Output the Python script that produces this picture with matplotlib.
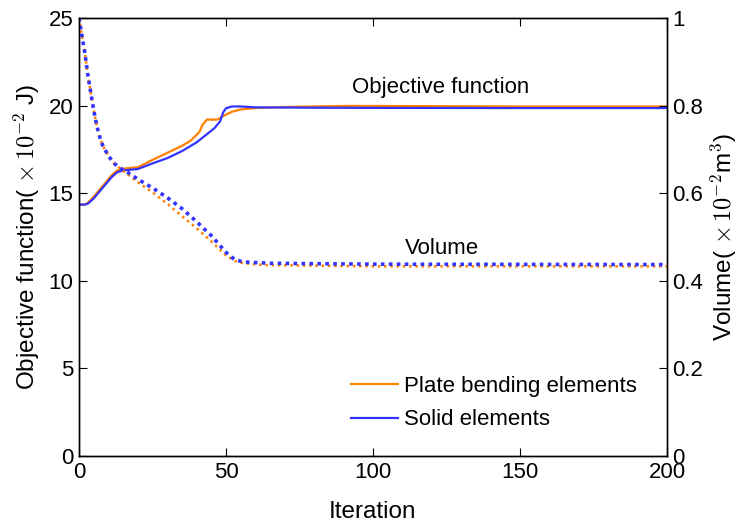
import matplotlib
matplotlib.use("Agg")
import matplotlib.pyplot as plt

plt.rcParams['font.family'] = ['Liberation Sans', 'DejaVu Sans']
plt.rcParams['mathtext.fontset'] = 'cm'

# Objective function (x 1e-2 J)
it_obj_solid = [0, 2, 3, 5, 7, 9, 11, 13, 15, 20, 25, 30, 35, 40, 43, 46, 48, 49, 50, 52, 55, 60, 80, 100, 150, 200]
obj_solid = [14.35, 14.35, 14.4, 14.7, 15.1, 15.5, 15.9, 16.2, 16.3, 16.38, 16.7, 17.0, 17.4, 17.9, 18.3, 18.7,
             19.1, 19.6, 19.85, 19.95, 19.95, 19.9, 19.88, 19.87, 19.86, 19.86]
it_obj_plate = [0, 2, 3, 5, 7, 9, 11, 13, 15, 20, 25, 30, 35, 38, 41, 42, 43.5, 47, 49, 52, 55, 60, 70, 90, 100, 150, 200]
obj_plate = [14.35, 14.35, 14.45, 14.8, 15.2, 15.6, 16.0, 16.3, 16.4, 16.48, 16.9, 17.3, 17.7, 18.0, 18.5, 18.9,
             19.2, 19.2, 19.4, 19.65, 19.78, 19.86, 19.92, 19.98, 19.98, 19.95, 19.95]

# Volume (x 1e-2 m^3)
it_vol_solid = [0, 1, 2, 3, 4, 5, 6, 7, 8, 10, 12, 14, 16, 20, 25, 30, 35, 40, 45, 50, 53, 56, 65, 100, 200]
vol_solid = [1.0, 0.96, 0.92, 0.87, 0.83, 0.79, 0.755, 0.73, 0.71, 0.685, 0.668, 0.657, 0.65, 0.632, 0.612,
             0.59, 0.565, 0.535, 0.503, 0.465, 0.448, 0.443, 0.44, 0.438, 0.437]
it_vol_plate = [0, 1, 2, 3, 4, 5, 6, 7, 8, 10, 12, 14, 16, 20, 25, 30, 35, 40, 45, 50, 53, 56, 63, 100, 200]
vol_plate = [1.0, 0.96, 0.92, 0.87, 0.83, 0.79, 0.755, 0.73, 0.71, 0.685, 0.668, 0.656, 0.646, 0.625, 0.602,
             0.576, 0.548, 0.52, 0.49, 0.458, 0.445, 0.44, 0.436, 0.433, 0.433]

orange = '#ff8000'
blue = '#3333ff'
W, H = 739, 522

fig = plt.figure(figsize=(W/100, H/100), dpi=100)
ax = fig.add_axes([79/W, 1-456/H, (667-79)/W, (456-18)/H])
ax2 = ax.twinx()

l1, = ax.plot(it_obj_plate, obj_plate, color=orange, lw=1.6, label='Plate bending elements')
l2, = ax.plot(it_obj_solid, obj_solid, color=blue, lw=1.6, label='Solid elements')
ax2.plot(it_vol_plate, vol_plate, color=orange, lw=1.8, ls=(0, (1, 1.5)))
ax2.plot(it_vol_solid, vol_solid, color=blue, lw=2.6, ls=(0, (1, 1.2)))

ax.set_xlim(0, 200)
ax.set_ylim(0, 25)
ax2.set_ylim(0, 1)
ax.set_xticks([0, 50, 100, 150, 200])
ax.set_yticks([0, 5, 10, 15, 20, 25])
ax2.set_yticks([0, 0.2, 0.4, 0.6, 0.8, 1])
ax2.set_yticklabels(['0', '0.2', '0.4', '0.6', '0.8', '1'])

for a in (ax, ax2):
    a.tick_params(direction='in', labelsize=16, length=6, width=0.8, pad=4)
    for s in a.spines.values():
        s.set_linewidth(1.0)
ax.tick_params(top=True)

ax.set_xlabel('Iteration', fontsize=17.5, labelpad=13)
ax.set_ylabel(r'Objective function( $\times\,10^{-2}$ J)', fontsize=17.5, labelpad=5)
ax2.set_ylabel(r'Volume( $\times\,10^{-2}$m$^3$)', fontsize=17.5, labelpad=4)

fig.text(441/W, 1-87/H, 'Objective function', fontsize=16, ha='center', va='center')
fig.text(442/W, 1-248/H, 'Volume', fontsize=16, ha='center', va='center')

fig.legend(handles=[l1, l2], loc='center left', bbox_to_anchor=(351/W, 1-403/H), frameon=False, fontsize=16,
           handlelength=2.1, handletextpad=0.3, labelspacing=0.58, borderpad=0, borderaxespad=0)

fig.savefig('out.png', dpi=100)
